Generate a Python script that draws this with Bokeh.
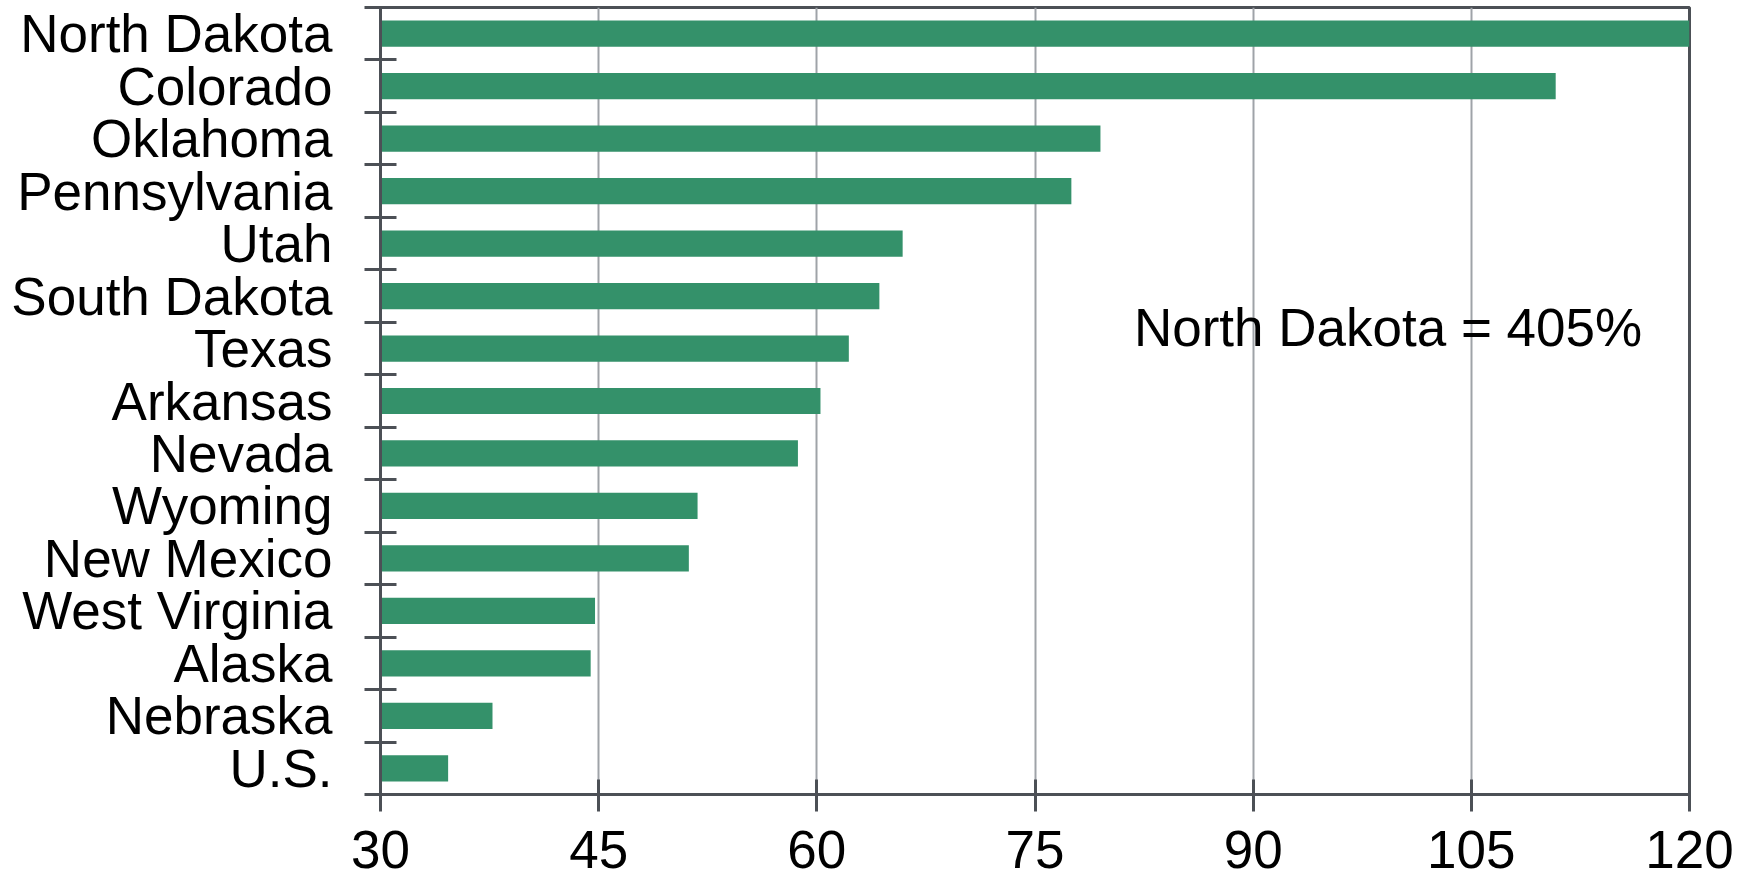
from bokeh.plotting import figure
from bokeh.models import Range1d, FixedTicker, Label
from bokeh.embed import file_html
from bokeh.resources import INLINE

states = ["North Dakota", "Colorado", "Oklahoma", "Pennsylvania", "Utah",
          "South Dakota", "Texas", "Arkansas", "Nevada", "Wyoming",
          "New Mexico", "West Virginia", "Alaska", "Nebraska", "U.S."]
values = [405, 110.8, 79.5, 77.5, 65.9, 64.3, 62.2, 60.25, 58.7, 51.8,
          51.2, 44.75, 44.45, 37.7, 34.65]
x_ticks = [30, 45, 60, 75, 90, 105, 120]
note = "North Dakota = 405%"

FONT = "Liberation Sans"
FONT_SIZE = "53px"
AXIS_COLOR = "#4c5056"
GRID_COLOR = "#9fa3a8"
BAR_COLOR = "#34916a"

n = len(states)
# category slots, top to bottom
centers = [n - 1 - i + 0.5 for i in range(n)]
bounds = list(range(n + 1))

p = figure(width=1744, height=880, output_backend="svg", toolbar_location=None,
           y_range=Range1d(0, n),
           x_range=Range1d(x_ticks[0], x_ticks[-1]),
           min_border_left=380, min_border_right=55, min_border_top=7,
           min_border_bottom=86)

p.hbar(y=centers, right=values, left=x_ticks[0], height=0.5,
       fill_color=BAR_COLOR, line_color=None)

# x axis
xa = p.xaxis[0]
xa.ticker = FixedTicker(ticks=x_ticks)
xa.axis_line_color = AXIS_COLOR
xa.axis_line_width = 3
xa.major_tick_line_color = AXIS_COLOR
xa.major_tick_line_width = 3
xa.major_tick_in = 15
xa.major_tick_out = 17
xa.minor_tick_line_color = None
xa.major_label_text_font = FONT
xa.major_label_text_font_size = FONT_SIZE
xa.major_label_text_color = "black"
xa.major_label_standoff = 19

p.xgrid.ticker = FixedTicker(ticks=x_ticks)
p.xgrid.grid_line_color = GRID_COLOR
p.xgrid.grid_line_width = 2
p.ygrid.grid_line_color = None

# y axis: labels at category centres, ticks at category boundaries
ya = p.yaxis[0]
ya.ticker = FixedTicker(ticks=centers, minor_ticks=bounds)
ya.major_label_overrides = {c: s for c, s in zip(centers, states)}
ya.axis_line_color = AXIS_COLOR
ya.axis_line_width = 3
ya.major_tick_line_color = None
ya.major_tick_in = 0
ya.major_tick_out = 0
ya.minor_tick_line_color = AXIS_COLOR
ya.minor_tick_line_width = 3
ya.minor_tick_in = 16
ya.minor_tick_out = 16
ya.major_label_text_font = FONT
ya.major_label_text_font_size = FONT_SIZE
ya.major_label_text_color = "black"
ya.major_label_standoff = 32

p.outline_line_color = AXIS_COLOR
p.outline_line_width = 3
p.background_fill_color = "white"
p.border_fill_color = "white"

p.add_layout(Label(x=81.8, y=8.9, text=note,
                   text_font=FONT, text_font_size=FONT_SIZE,
                   text_color="black", text_baseline="alphabetic"))

open("out.html", "w").write(file_html(p, INLINE))
